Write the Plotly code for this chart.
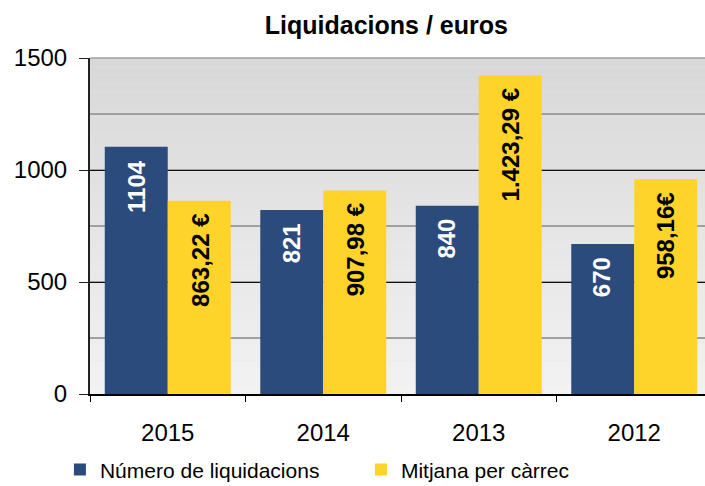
import plotly.graph_objects as go

years = ["2015", "2014", "2013", "2012"]
num_liquidacions = [1104, 821, 840, 670]
mitjana_carrec = [863.22, 907.98, 1423.29, 958.16]
num_labels = ["1104", "821", "840", "670"]
mitjana_labels = ["863,22 €", "907,98 €", "1.423,29 €", "958,16€"]
y_ticks = [0, 500, 1000, 1500]

BLUE = "#2b4b7c"
YELLOW = "#ffd42a"
FONT = "Liberation Sans, Arial, sans-serif"

fig = go.Figure()
fig.add_trace(go.Bar(x=years, y=num_liquidacions, name="Número de liquidacions",
                     marker=dict(color=BLUE, line=dict(width=0))))
fig.add_trace(go.Bar(x=years, y=mitjana_carrec, name="Mitjana per càrrec",
                     marker=dict(color=YELLOW, line=dict(width=0))))

# background gradient bands
shapes = []
n = 40
top = (0xd8, 0xd8, 0xd8)
bot = (0xf2, 0xf2, 0xf2)
for i in range(n):
    t = i / (n - 1)
    c = tuple(int(round(top[k] + (bot[k] - top[k]) * t)) for k in range(3))
    shapes.append(dict(type="rect", xref="paper", yref="paper",
                       x0=0, x1=1, y0=1 - (i + 1) / n, y1=1 - i / n,
                       fillcolor="rgb(%d,%d,%d)" % c, line=dict(width=0),
                       layer="below"))
# top border line in grey (as in reference)
shapes.append(dict(type="line", xref="paper", yref="paper", x0=0, x1=1, y0=1, y1=1,
                   line=dict(color="#a0a0a0", width=1.5), layer="above"))

annotations = []
for i, (v, lab) in enumerate(zip(num_liquidacions, num_labels)):
    annotations.append(dict(x=i, y=v, xref="x", yref="y", text=lab, showarrow=False,
                            textangle=-90, xshift=-32, yshift=-11, yanchor="top",
                            font=dict(family=FONT, size=24, color="white", weight="bold")))
for i, (v, lab) in enumerate(zip(mitjana_carrec, mitjana_labels)):
    annotations.append(dict(x=i, y=v, xref="x", yref="y", text=lab, showarrow=False,
                            textangle=-90, xshift=32, yshift=-11, yanchor="top",
                            font=dict(family=FONT, size=24, color="black", weight="bold")))

fig.update_layout(
    width=705, height=486,
    margin=dict(l=90, r=0, t=58, b=92, autoexpand=False),
    paper_bgcolor="white",
    plot_bgcolor="#e6e6e6",
    barmode="group", bargap=0.19, bargroupgap=0,
    font=dict(family=FONT, color="black"),
    title=dict(text="<b>Liquidacions / euros</b>", xref="container", x=0.548,
               xanchor="center", y=1 - 25 / 486, yanchor="middle",
               font=dict(size=25, family=FONT, color="black")),
    showlegend=True,
    legend=dict(orientation="h", xref="container", yref="container",
                x=0.085, xanchor="left", y=0.033, yanchor="middle",
                font=dict(size=21, family=FONT), entrywidth=256, entrywidthmode="pixels",
                bgcolor="rgba(0,0,0,0)", itemclick=False),
    shapes=shapes,
    annotations=annotations,
)
fig.update_xaxes(type="category", range=[-0.5, 3.455], showline=True, linecolor="black",
                 linewidth=1.5, ticks="outside", tickson="boundaries", ticklen=6,
                 tickcolor="black", tickfont=dict(size=24), ticklabelstandoff=16,
                 showgrid=False, automargin=False)
fig.update_yaxes(range=[0, 1500], tickvals=y_ticks, showline=True, linecolor="#222",
                 linewidth=2, ticks="outside", ticklen=9, tickcolor="#222",
                 tickfont=dict(size=24), ticklabelstandoff=7, automargin=False,
                 showgrid=True, gridcolor="#111", gridwidth=1, zeroline=False,
                 minor=dict(dtick=250, showgrid=True, gridcolor="#a0a0a0", gridwidth=1.5))

fig.write_html("out.html", config={"displayModeBar": False},
               post_script="document.body.style.margin='0';document.body.style.overflow='hidden';")
